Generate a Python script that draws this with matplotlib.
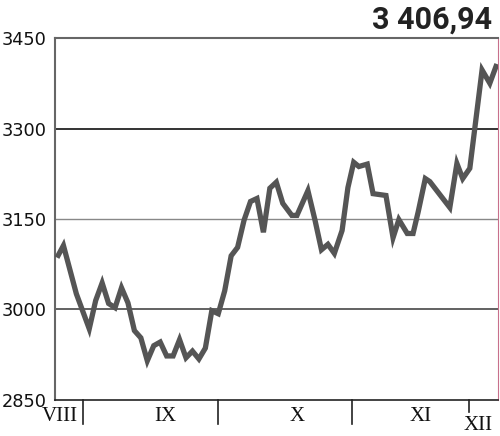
import matplotlib
matplotlib.use("Agg")
import matplotlib.pyplot as plt
import matplotlib.transforms as mtransforms

# trading-day positions and index values
days = [0, 1, 3, 5, 6, 7, 8, 9, 10, 11, 12, 13, 14, 15, 16, 17, 18, 19, 20, 21,
        22, 23, 24, 25, 26, 27, 28, 29, 30, 31, 32, 33, 34, 35, 36.4, 37.2, 38.9,
        40, 41, 42, 43, 44.2, 45.1, 46, 46.8, 48.1, 49, 51, 52.1, 53, 54.3, 55.2,
        56, 57.1, 57.8, 60.9, 62, 62.9, 64, 65.9, 67.1, 68.2]
values = [3086, 3106, 3026, 2968, 3015, 3044, 3010, 3003, 3036, 3011, 2965, 2953,
          2915, 2940, 2946, 2923, 2923, 2950, 2920, 2931, 2918, 2936, 2998, 2993,
          3031, 3089, 3103, 3148, 3179, 3184, 3128, 3201, 3211, 3176, 3156, 3156,
          3197, 3148, 3099, 3108, 3093, 3131, 3202, 3244, 3237, 3241, 3192, 3189,
          3119, 3149, 3126, 3126, 3162, 3217, 3212, 3169, 3242, 3217, 3234, 3397,
          3375, 3406.94]

month_labels = ["VIII", "IX", "X", "XI", "XII"]
month_label_pos = [0.39, 16.74, 37.2, 56.3, 65.3]
month_bounds = [4.03, 24.96, 45.73, 63.88]
yticks = [2850, 3000, 3150, 3300, 3450]
last_value_label = "3 406,94"

fig = plt.figure(figsize=(5.0, 4.36), dpi=100)
ax = fig.add_axes([0.11, 0.0826, 0.886, 0.8302])

ax.set_xlim(-0.31, 68.37)
ax.set_ylim(2850, 3450)

# horizontal reference lines
ax.axhline(3300, color="#111111", lw=1.2, zorder=1)
ax.axhline(3150, color="#888888", lw=1.0, zorder=1)
ax.axhline(3000, color="#555555", lw=1.3, zorder=1)

ax.plot(days, values, color="#555555", lw=3.8, solid_joinstyle="miter",
        solid_capstyle="butt", zorder=3)

ax.set_yticks(yticks)
ax.set_yticklabels([str(v) for v in yticks], fontsize=12.8,
                   fontfamily="DejaVu Sans", color="#111111")
ax.tick_params(axis="y", length=0, pad=6)
ax.set_xticks([])

for side in ["left", "top"]:
    ax.spines[side].set_color("#666666")
    ax.spines[side].set_linewidth(1.5)
ax.spines["bottom"].set_color("#222222")
ax.spines["bottom"].set_linewidth(1.2)
ax.spines["right"].set_color("#c8708c")
ax.spines["right"].set_linewidth(0.8)

trans = mtransforms.blended_transform_factory(ax.transData, fig.transFigure)
# month separators
for i, b in enumerate(month_bounds):
    y_end = 1 - 424 / 436 if i < 3 else 1 - 412 / 436
    ax.add_line(plt.Line2D([b, b], [1 - 400 / 436, y_end], transform=trans,
                           color="#222222", lw=1.2, clip_on=False))

for i, (lab, pos) in enumerate(zip(month_labels, month_label_pos)):
    yc = 1 - 416 / 436 if i < 4 else 1 - 425 / 436
    ax.text(pos, yc, lab, transform=trans, ha="center", va="center",
            fontsize=15, fontfamily="Liberation Serif", color="#111111")

fig.text(492 / 500, 1 - 20 / 436, last_value_label, ha="right", va="center",
         fontsize=22, fontweight="bold", fontfamily="Roboto", color="#222222")

fig.savefig("out.png", dpi=100)
